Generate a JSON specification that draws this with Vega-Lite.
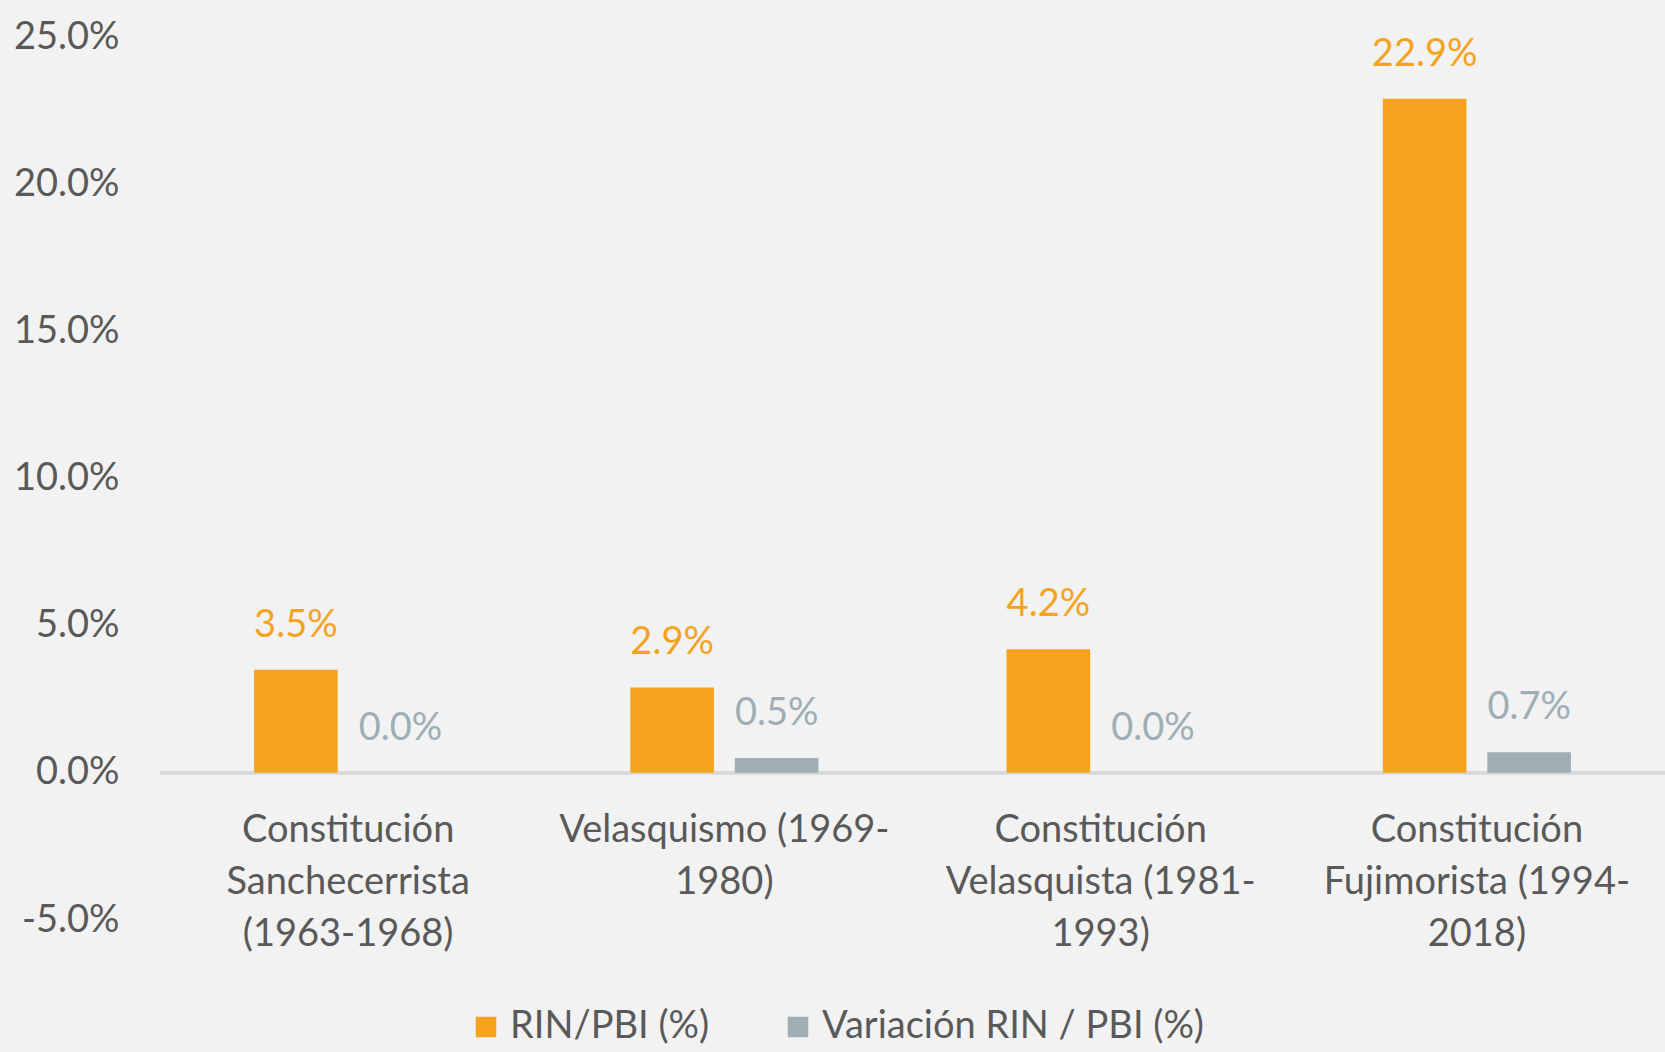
{
  "$schema": "https://vega.github.io/schema/vega-lite/v6.json",
  "width": 1505,
  "height": 883,
  "autosize": "none",
  "padding": {"left": 160, "top": 37, "right": 0, "bottom": 132},
  "background": "#f2f2f2",
  "config": {"view": {"stroke": null}, "font": "Lato"},
  "data": {
    "values": [
      {"periodo": "Constitución Sanchecerrista (1963-1968)", "serie": "RIN/PBI (%)", "valor": 0.035},
      {"periodo": "Constitución Sanchecerrista (1963-1968)", "serie": "Variación RIN / PBI (%)", "valor": 0.0},
      {"periodo": "Velasquismo (1969-1980)", "serie": "RIN/PBI (%)", "valor": 0.029},
      {"periodo": "Velasquismo (1969-1980)", "serie": "Variación RIN / PBI (%)", "valor": 0.005},
      {"periodo": "Constitución Velasquista (1981-1993)", "serie": "RIN/PBI (%)", "valor": 0.042},
      {"periodo": "Constitución Velasquista (1981-1993)", "serie": "Variación RIN / PBI (%)", "valor": 0.0},
      {"periodo": "Constitución Fujimorista (1994-2018)", "serie": "RIN/PBI (%)", "valor": 0.229},
      {"periodo": "Constitución Fujimorista (1994-2018)", "serie": "Variación RIN / PBI (%)", "valor": 0.007}
    ]
  },
  "layer": [
    {
      "mark": {"type": "rule", "color": "#d9d9d9", "strokeWidth": 3},
      "encoding": {"y": {"datum": 0, "type": "quantitative"}}
    },
    {
      "mark": {"type": "bar"},
      "encoding": {
        "x": {
          "field": "periodo", "type": "nominal", "sort": null,
          "scale": {"paddingInner": 0.5, "paddingOuter": 0.25},
          "axis": {
            "title": null, "orient": "bottom", "offset": -147, "domain": false, "ticks": false,
            "labelAngle": 0, "labelFontSize": 38, "labelColor": "#595959", "labelPadding": 38,
            "labelLineHeight": 52, "labelLimit": 0,
            "labelExpr": "datum.label == 'Constitución Sanchecerrista (1963-1968)' ? ['Constitución', 'Sanchecerrista', '(1963-1968)'] : datum.label == 'Velasquismo (1969-1980)' ? ['Velasquismo (1969-', '1980)'] : datum.label == 'Constitución Velasquista (1981-1993)' ? ['Constitución', 'Velasquista (1981-', '1993)'] : ['Constitución', 'Fujimorista (1994-', '2018)']"
          }
        },
        "xOffset": {"field": "serie", "type": "nominal", "sort": ["RIN/PBI (%)", "Variación RIN / PBI (%)"], "scale": {"paddingInner": 0.2}},
        "y": {
          "field": "valor", "type": "quantitative",
          "scale": {"domain": [-0.05, 0.25], "nice": false, "zero": false},
          "axis": {
            "title": null, "values": [-0.05, 0, 0.05, 0.1, 0.15, 0.2, 0.25],
            "labelExpr": "(datum.value < 0 ? '-' : '') + format(abs(datum.value), '.1%')",
            "domain": false, "ticks": false, "grid": false,
            "labelFontSize": 38, "labelColor": "#595959", "labelPadding": 41
          }
        },
        "color": {
          "field": "serie", "type": "nominal",
          "scale": {"domain": ["RIN/PBI (%)", "Variación RIN / PBI (%)"], "range": ["#f5a31f", "#9eaeb4"]},
          "legend": {
            "title": null, "orient": "none", "direction": "horizontal",
            "legendX": 307, "legendY": 971,
            "symbolType": "square", "symbolSize": 420, "symbolStrokeWidth": 0,
            "labelFontSize": 38, "labelColor": "#595959", "labelLimit": 0,
            "columnPadding": 69, "labelOffset": 5
          }
        }
      }
    },
    {
      "mark": {"type": "text", "baseline": "middle", "dy": -44, "fontSize": 38},
      "encoding": {
        "x": {"field": "periodo", "type": "nominal", "sort": null},
        "xOffset": {"field": "serie", "type": "nominal", "sort": ["RIN/PBI (%)", "Variación RIN / PBI (%)"]},
        "y": {"field": "valor", "type": "quantitative"},
        "text": {"field": "valor", "type": "quantitative", "format": ".1%"},
        "color": {"field": "serie", "type": "nominal", "legend": null}
      }
    }
  ]
}
